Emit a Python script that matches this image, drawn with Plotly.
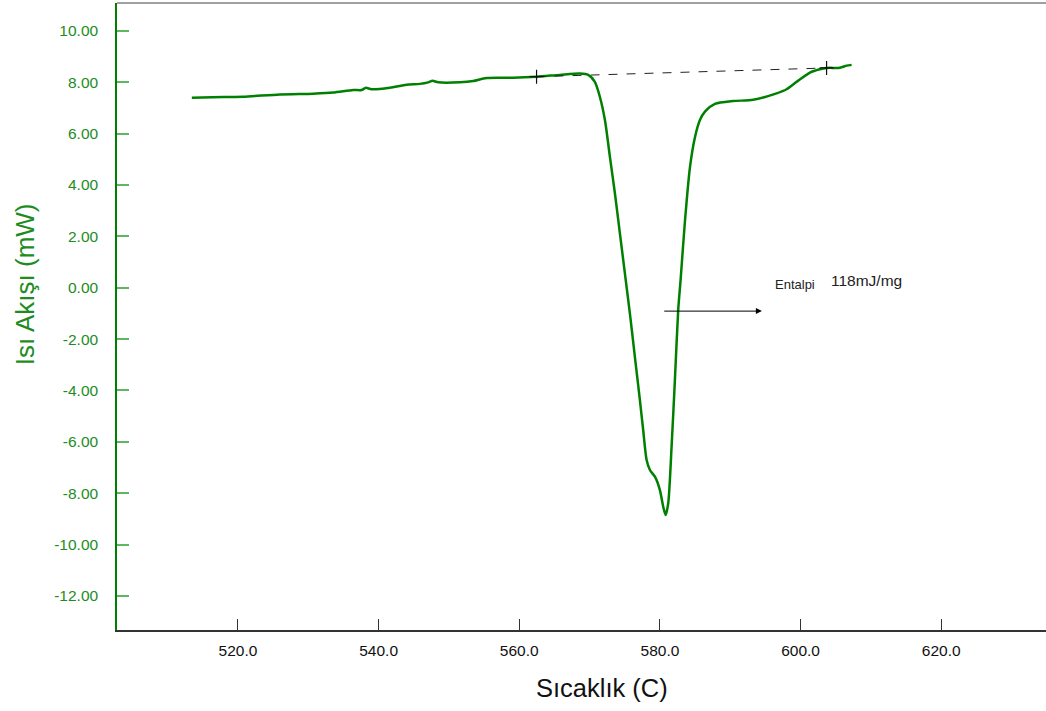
import plotly.graph_objects as go

# DSC curve: temperature (C) and heat flow (mW)
temp = [513.44, 517.9, 520.74, 525.96, 530.69, 533.54, 536.38, 537.58, 538.19, 539.0,
        541.6, 543.98, 545.87, 547.05, 547.67, 548.47, 551.56, 553.45, 555.35, 559.14,
        562.46, 565.78, 568.62, 569.8, 570.75, 571.46, 572.18, 572.89, 573.6, 574.31,
        575.02, 575.73, 576.44, 577.15, 577.62, 578.11, 578.58, 579.29, 580.0, 580.47,
        580.81, 581.18, 581.66, 582.13, 582.6, 582.94, 583.57, 584.28, 585.0, 585.69,
        586.4, 587.82, 590.42, 593.26, 596.59, 598.01, 599.44, 601.33, 602.75, 603.7,
        605.6, 606.55, 607.26]
heat = [7.40, 7.43, 7.44, 7.53, 7.56, 7.60, 7.70, 7.70, 7.79, 7.73,
        7.79, 7.91, 7.94, 8.00, 8.06, 8.00, 8.00, 8.05, 8.17, 8.18,
        8.22, 8.29, 8.34, 8.29, 8.02, 7.44, 6.53, 5.10, 3.68, 2.12,
        0.56, -1.00, -2.69, -4.37, -5.54, -6.71, -7.10, -7.36, -7.88, -8.53,
        -8.85, -8.40, -6.19, -3.60, -0.87, 0.30, 2.63, 4.71, 5.88, 6.53,
        6.86, 7.16, 7.27, 7.32, 7.57, 7.73, 8.02, 8.38, 8.51, 8.56,
        8.57, 8.65, 8.68]

# integration baseline end points
base_t = [562.46, 603.7]
base_h = [8.22, 8.56]

# enthalpy arrow
arrow_t = [580.4, 594.5]
arrow_h = -0.91

x_ticks = [520, 540, 560, 580, 600, 620]
x_labels = ["520.0", "540.0", "560.0", "580.0", "600.0", "620.0"]
y_ticks = [-12, -10, -8, -6, -4, -2, 0, 2, 4, 6, 8, 10]
y_labels = ["-12.00", "-10.00", "-8.00", "-6.00", "-4.00", "-2.00", "0.00",
            "2.00", "4.00", "6.00", "8.00", "10.00"]

GREEN = "#008000"
LABEL_GREEN = "#1e8c1e"
FONT = "Arial, Liberation Sans, sans-serif"

fig = go.Figure()
fig.add_trace(go.Scatter(x=temp, y=heat, mode="lines",
                         line=dict(color=GREEN, width=2.5, shape="spline",
                                   smoothing=0.7),
                         showlegend=False, hoverinfo="skip"))
fig.add_trace(go.Scatter(x=base_t, y=base_h, mode="lines+markers",
                         line=dict(color="#222222", width=1, dash="dash"),
                         marker=dict(symbol="cross-thin", size=10,
                                     line=dict(color="#111111", width=1.2)),
                         showlegend=False, hoverinfo="skip"))

fig.add_annotation(x=arrow_t[1], y=arrow_h, ax=arrow_t[0], ay=arrow_h,
                   xref="x", yref="y", axref="x", ayref="y", text="",
                   showarrow=True, arrowhead=2, arrowsize=1.2, arrowwidth=1,
                   arrowcolor="#000000")
fig.add_annotation(x=596.07, y=0.12, xref="x", yref="y", text="Entalpi",
                   showarrow=False, xanchor="left", yanchor="middle",
                   font=dict(family=FONT, size=13, color="#222222"))
fig.add_annotation(x=604.07, y=0.27, xref="x", yref="y", text="118mJ/mg",
                   showarrow=False, xanchor="left", yanchor="middle",
                   font=dict(family=FONT, size=15.5, color="#222222"))

# axis titles
fig.add_annotation(x=0.5226, y=-0.0925, xref="paper", yref="paper",
                   text="Sıcaklık (C)", showarrow=False,
                   xanchor="center", yanchor="middle",
                   font=dict(family=FONT, size=25.5, color="#111111"))
fig.add_annotation(x=-0.099, y=0.5515, xref="paper", yref="paper",
                   text="Isı Akışı (mW)", showarrow=False, textangle=-90,
                   xanchor="center", yanchor="middle",
                   font=dict(family=FONT, size=26, color=LABEL_GREEN))

# top border
fig.add_shape(type="line", xref="paper", yref="paper", x0=0, x1=1, y0=1, y1=1,
              line=dict(color="#808080", width=1.5))

fig.update_layout(
    width=1046, height=711,
    margin=dict(l=117, r=0, t=3, b=81),
    paper_bgcolor="white", plot_bgcolor="white",
    font=dict(family=FONT),
    xaxis=dict(range=[502.8, 634.9], tickvals=x_ticks, ticktext=x_labels,
               ticks="inside", ticklen=11, tickcolor="#333333", tickwidth=1,
               showline=True, linecolor="#333333", linewidth=2,
               showgrid=False, zeroline=False,
               tickfont=dict(family=FONT, size=15.5, color="#111111"),
               ticklabelstandoff=5),
    yaxis=dict(range=[-13.33, 11.09], tickvals=y_ticks, ticktext=y_labels,
               ticks="inside", ticklen=12, tickcolor="#5cb85c", tickwidth=1.5,
               showline=True, linecolor=GREEN, linewidth=1.5,
               showgrid=False, zeroline=False,
               tickfont=dict(family=FONT, size=15.5, color=LABEL_GREEN),
               ticklabelstandoff=14),
)

fig.write_html("out.html")
